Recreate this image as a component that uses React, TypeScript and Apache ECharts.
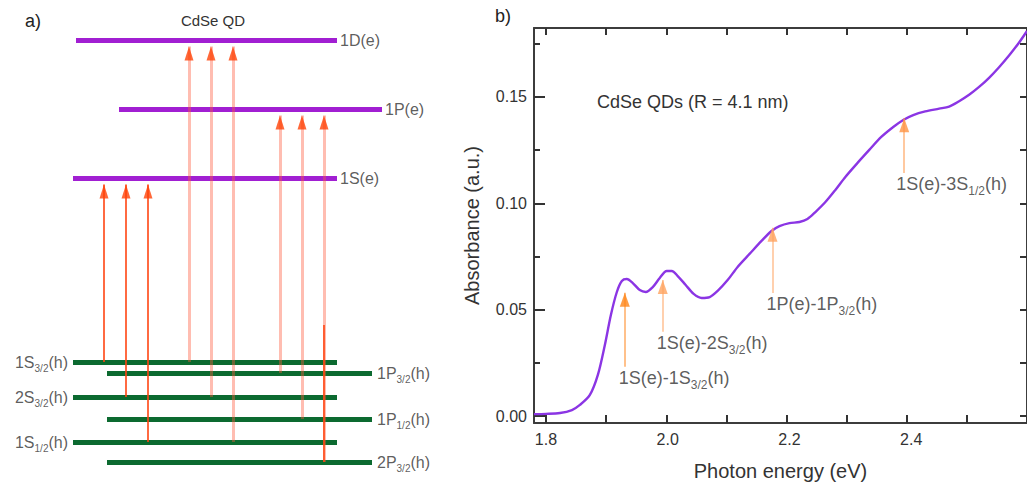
import React, { useEffect, useRef } from 'react';
import * as echarts from 'echarts';

// ---------------- Panel b: absorbance spectrum ----------------
const photonEnergy = [
  1.7803, 1.8, 1.823, 1.8426, 1.8557, 1.8721, 1.8852, 1.8967, 1.9066, 1.9164, 1.9246, 1.9328,
  1.9426, 1.9541, 1.9639, 1.9754, 1.9869, 1.9984, 2.0066, 2.0164, 2.0295, 2.0426, 2.0557, 2.0689,
  2.082, 2.0984, 2.1148, 2.1344, 2.1541, 2.1705, 2.1836, 2.2, 2.2164, 2.2295, 2.2426, 2.259,
  2.2754, 2.2918, 2.3115, 2.3311, 2.3508, 2.3705, 2.3869, 2.4033, 2.423, 2.4459, 2.4623, 2.4787,
  2.4951, 2.5115, 2.5279, 2.5443, 2.5607, 2.577, 2.5902,
];
const absorbance = [
  0.0009, 0.001, 0.0014, 0.0028, 0.0052, 0.0099, 0.0193, 0.0334, 0.0475, 0.0583, 0.0635, 0.0644,
  0.0625, 0.0592, 0.0583, 0.0606, 0.0649, 0.0682, 0.0682, 0.0658, 0.0616, 0.0574, 0.0555, 0.0559,
  0.0588, 0.0639, 0.0701, 0.0762, 0.0823, 0.087, 0.0893, 0.0907, 0.0912, 0.0926, 0.0959, 0.1006,
  0.1063, 0.1124, 0.1189, 0.1251, 0.1312, 0.1359, 0.1392, 0.1415, 0.1432, 0.1445, 0.1455, 0.148,
  0.151, 0.1547, 0.159, 0.164, 0.1695, 0.1755, 0.181,
];

const peakNames = [
  '1S(e)-1S{s|3/2}(h)',
  '1S(e)-2S{s|3/2}(h)',
  '1P(e)-1P{s|3/2}(h)',
  '1S(e)-3S{s|1/2}(h)',
];
const peakEnergy = [1.9295, 1.9918, 2.1721, 2.3885];
const peakArrowTail = [0.0232, 0.0396, 0.0578, 0.1142];
const peakArrowTip = [0.058, 0.064, 0.0885, 0.14];

const xTickLabels = [1.8, 2.0, 2.2, 2.4];
const yTickLabels = [0, 0.05, 0.1, 0.15];
// tick runs (first tick, step, last tick) for the inside frame ticks
const xTickRun = { first: 1.8, step: 0.1, last: 2.6 };
const yMajorRun = { first: 0, step: 0.05, last: 0.15 };
const yMinorRun = { first: 0, step: 0.025, last: 0.175 };

// ---------------- Panel a: energy level diagram ----------------
const electronLevelNames = ['1D(e)', '1P(e)', '1S(e)'];
const electronLevelEnergy = [3.22, 2.53, 1.84];
const holeLevelNames = [
  '1S{s|3/2}(h)',
  '1P{s|3/2}(h)',
  '2S{s|3/2}(h)',
  '1P{s|1/2}(h)',
  '1S{s|1/2}(h)',
  '2P{s|3/2}(h)',
];
const holeLevelEnergy = [0, -0.11, -0.35, -0.57, -0.8, -1.0];
// transitions: hole level index -> electron level index
const transitionFrom = [0, 2, 4, 0, 2, 4, 1, 3, 5];
const transitionTo = [2, 2, 2, 0, 0, 0, 1, 1, 1];
const transitionStrong = [true, true, true, false, false, false, false, false, false];

// layout for panel a (schematic columns)
const electronSpan = [[76, 337], [119, 382], [73, 337]];
const sSpan = [73, 337];
const pSpan = [107, 372];
const arrowColumns = [104, 126, 148, 189, 211, 233, 280, 302, 324];
const tipGap = 0.065;
const partialHighlight = { transition: 8, upTo: 0.37 };

const FONT = '"Liberation Sans", Arial, Helvetica, sans-serif';
const TXT = '#333';
const AXIS = '#333';
const BX = { min: 1.7803, max: 2.5902 };
const BY = { min: -0.00329, max: 0.18242 };
const GRID_B = { left: 534, top: 28, width: 494, height: 395 };

function holeSpan(i: number) {
  return holeLevelNames[i].startsWith('1P') || holeLevelNames[i].startsWith('2P') ? pSpan : sSpan;
}

function buildOption(): any {
  const curve = photonEnergy.map((e, i) => [e, absorbance[i]]);
  const arrowColors = ['#ff8417', '#ffa25e', '#ffa25e', '#ff9442'];

  const sx = GRID_B.width / (BX.max - BX.min);
  const sy = GRID_B.height / (BY.max - BY.min);
  const pxX = (v: number) => GRID_B.left + (v - BX.min) * sx;
  const pxY = (v: number) => GRID_B.top + (BY.max - v) * sy;

  const gridXT = {
    left: pxX(xTickRun.first), width: (xTickRun.last - xTickRun.first) * sx,
    top: GRID_B.top, height: GRID_B.height, show: false,
  };
  const gridYMaj = {
    left: GRID_B.left, width: GRID_B.width,
    top: pxY(yMajorRun.last), height: (yMajorRun.last - yMajorRun.first) * sy, show: false,
  };
  const gridYMin = {
    left: GRID_B.left, width: GRID_B.width,
    top: pxY(yMinorRun.last), height: (yMinorRun.last - yMinorRun.first) * sy, show: false,
  };

  const subRichB = {
    s: { fontSize: 12, lineHeight: 12, verticalAlign: 'bottom', color: TXT, fontFamily: FONT },
  };
  const subRichA = {
    s: { fontSize: 10, lineHeight: 10, verticalAlign: 'bottom', color: TXT, fontFamily: FONT },
  };

  const electronLines = electronLevelEnergy.map((E, i) => ({
    coords: [[electronSpan[i][0], E], [electronSpan[i][1], E]],
  }));
  const holeLines = holeLevelEnergy.map((E, i) => ({
    coords: [[holeSpan(i)[0], E], [holeSpan(i)[1], E]],
  }));
  const shafts: any[] = transitionFrom.map((h, k) => {
    const x = arrowColumns[k];
    const y0 = holeLevelEnergy[h];
    const y1 = electronLevelEnergy[transitionTo[k]] - tipGap;
    return transitionStrong[k]
      ? { coords: [[x, y0], [x, y1]], lineStyle: { color: '#ff4512', width: 1.6, opacity: 1 } }
      : { coords: [[x, y0], [x, y1]], lineStyle: { color: '#ff5a3c', width: 3, opacity: 0.4 } };
  });
  {
    const k = partialHighlight.transition;
    const x = arrowColumns[k];
    shafts.push({
      coords: [[x, holeLevelEnergy[transitionFrom[k]]], [x, partialHighlight.upTo]],
      lineStyle: { color: '#ff4512', width: 1.6, opacity: 1 },
    });
  }
  const heads = transitionFrom.map((h, k) => [arrowColumns[k], electronLevelEnergy[transitionTo[k]] - tipGap]);

  const levelLabels: any[] = [];
  electronLevelEnergy.forEach((E, i) => {
    levelLabels.push({
      value: [electronSpan[i][1], E],
      label: { formatter: electronLevelNames[i], align: 'left', offset: [3, 0] },
    });
  });
  holeLevelEnergy.forEach((E, i) => {
    const span = holeSpan(i);
    const isP = span === pSpan;
    levelLabels.push({
      value: [isP ? span[1] : span[0], E],
      label: { formatter: holeLevelNames[i], align: isP ? 'left' : 'right', offset: [isP ? 5 : -5, 0] },
    });
  });

  const lineStyle = { color: '#3c3c3c', width: 2 };
  const hidden = (gridIndex: number) => ({ gridIndex, type: 'value', min: 0, max: 1, show: false });
  const tickAxis = (gridIndex: number, position: string, run: any, length: number) => ({
    gridIndex, type: 'value', position, min: run.first, max: run.last, interval: run.step,
    axisLine: { show: false, onZero: false },
    axisTick: { show: true, inside: true, length, lineStyle: { color: AXIS, width: 2 } },
    axisLabel: { show: false },
    splitLine: { show: false },
  });

  return {
    animation: false,
    backgroundColor: '#fff',
    textStyle: { fontFamily: FONT },
    grid: [
      { left: 0, top: 12, width: 480, height: 470, show: false },
      { ...GRID_B, show: false },
      gridXT,
      gridYMaj,
      gridYMin,
    ],
    xAxis: [
      {
        gridIndex: 1, type: 'value', position: 'bottom', ...BX,
        axisLine: { show: true, onZero: false, lineStyle },
        axisTick: { show: false },
        axisLabel: {
          customValues: xTickLabels, formatter: (v: number) => v.toFixed(1),
          fontSize: 16, color: TXT, margin: 8, fontFamily: FONT,
        },
        splitLine: { show: false },
        name: 'Photon energy (eV)', nameLocation: 'middle', nameGap: 38,
        nameTextStyle: { fontSize: 20, color: TXT, fontFamily: FONT },
      },
      {
        gridIndex: 1, type: 'value', position: 'top', ...BX,
        axisLine: { show: true, onZero: false, lineStyle },
        axisTick: { show: false },
        axisLabel: { show: false },
        splitLine: { show: false },
      },
      { gridIndex: 0, type: 'value', min: 0, max: 480, show: false },
      tickAxis(2, 'bottom', xTickRun, 8),
      tickAxis(2, 'top', xTickRun, 7),
      hidden(3),
      hidden(4),
    ],
    yAxis: [
      {
        gridIndex: 1, type: 'value', position: 'left', ...BY,
        axisLine: { show: true, onZero: false, lineStyle },
        axisTick: { show: false },
        axisLabel: {
          customValues: yTickLabels, formatter: (v: number) => v.toFixed(2),
          fontSize: 16, color: TXT, margin: 7, fontFamily: FONT,
        },
        splitLine: { show: false },
        name: 'Absorbance (a.u.)', nameLocation: 'middle', nameGap: 52,
        nameTextStyle: { fontSize: 20, color: TXT, fontFamily: FONT },
      },
      {
        gridIndex: 1, type: 'value', position: 'right', ...BY,
        axisLine: { show: true, onZero: false, lineStyle },
        axisTick: { show: false },
        axisLabel: { show: false },
        splitLine: { show: false },
      },
      { gridIndex: 0, type: 'value', min: -1.2, max: 3.5, show: false },
      hidden(2),
      tickAxis(3, 'left', yMajorRun, 11),
      tickAxis(4, 'left', yMinorRun, 6),
      tickAxis(4, 'right', yMinorRun, 7),
    ],
    series: [
      {
        type: 'line', xAxisIndex: 0, yAxisIndex: 0, data: curve, showSymbol: false, smooth: 0.3,
        lineStyle: { color: '#8b35e4', width: 2.4 }, z: 3,
      },
      {
        type: 'lines', coordinateSystem: 'cartesian2d', xAxisIndex: 0, yAxisIndex: 0, z: 4,
        data: peakEnergy.map((e, i) => ({
          coords: [[e, peakArrowTail[i]], [e, peakArrowTip[i]]],
          lineStyle: { color: arrowColors[i], width: 2 },
        })),
      },
      {
        type: 'scatter', xAxisIndex: 0, yAxisIndex: 0, z: 5, symbol: 'triangle', symbolSize: [10, 14],
        symbolOffset: [0, 7],
        data: peakEnergy.map((e, i) => ({ value: [e, peakArrowTip[i]], itemStyle: { color: arrowColors[i] } })),
      },
      {
        type: 'scatter', xAxisIndex: 0, yAxisIndex: 0, z: 5, symbolSize: 0,
        data: peakEnergy.map((e, i) => ({
          value: [e, peakArrowTail[i]],
          label: { offset: [i === 3 ? -8 : -6, 11] },
        })),
        label: {
          show: true, position: 'inside', align: 'left', verticalAlign: 'middle',
          formatter: (p: any) => peakNames[p.dataIndex],
          fontSize: 18, lineHeight: 26, color: TXT, fontFamily: FONT, rich: subRichB,
        },
      },
      {
        type: 'lines', coordinateSystem: 'cartesian2d', xAxisIndex: 2, yAxisIndex: 2, z: 2,
        data: electronLines, lineStyle: { color: '#a11fd2', width: 5, opacity: 1 },
      },
      {
        type: 'lines', coordinateSystem: 'cartesian2d', xAxisIndex: 2, yAxisIndex: 2, z: 2,
        data: holeLines, lineStyle: { color: '#0c6a30', width: 5, opacity: 1 },
      },
      {
        type: 'lines', coordinateSystem: 'cartesian2d', xAxisIndex: 2, yAxisIndex: 2, z: 3,
        data: shafts,
      },
      {
        type: 'scatter', xAxisIndex: 2, yAxisIndex: 2, z: 4, symbol: 'triangle', symbolSize: [9, 14],
        symbolOffset: [0, 7], itemStyle: { color: '#ff4208' }, data: heads,
      },
      {
        type: 'scatter', xAxisIndex: 2, yAxisIndex: 2, z: 4, symbolSize: 0, data: levelLabels,
        label: {
          show: true, position: 'inside', verticalAlign: 'middle',
          fontSize: 16, lineHeight: 22, color: TXT, fontFamily: FONT, rich: subRichA,
        },
      },
    ],
    graphic: [
      { type: 'text', left: 25, top: 12, style: { text: 'a)', fontSize: 18, fill: '#222', fontFamily: FONT } },
      { type: 'text', left: 495, top: 7, style: { text: 'b)', fontSize: 18, fill: '#222', fontFamily: FONT } },
      {
        type: 'text', x: 213, y: 20,
        style: { text: 'CdSe QD', fontSize: 15, fill: TXT, fontFamily: FONT, align: 'center', verticalAlign: 'middle' },
      },
      {
        type: 'text', x: 597, y: 102,
        style: { text: 'CdSe QDs (R = 4.1 nm)', fontSize: 18, fill: TXT, fontFamily: FONT, align: 'left', verticalAlign: 'middle' },
      },
    ],
  };
}

export default function App() {
  const ref = useRef<HTMLDivElement>(null);
  useEffect(() => {
    const chart = echarts.init(ref.current!, null, { renderer: 'svg' });
    chart.setOption(buildOption());
    return () => chart.dispose();
  }, []);
  return (
    <div
      ref={ref}
      style={{ position: 'fixed', left: 0, top: 0, width: 1027, height: 486, background: '#fff' }}
    />
  );
}
